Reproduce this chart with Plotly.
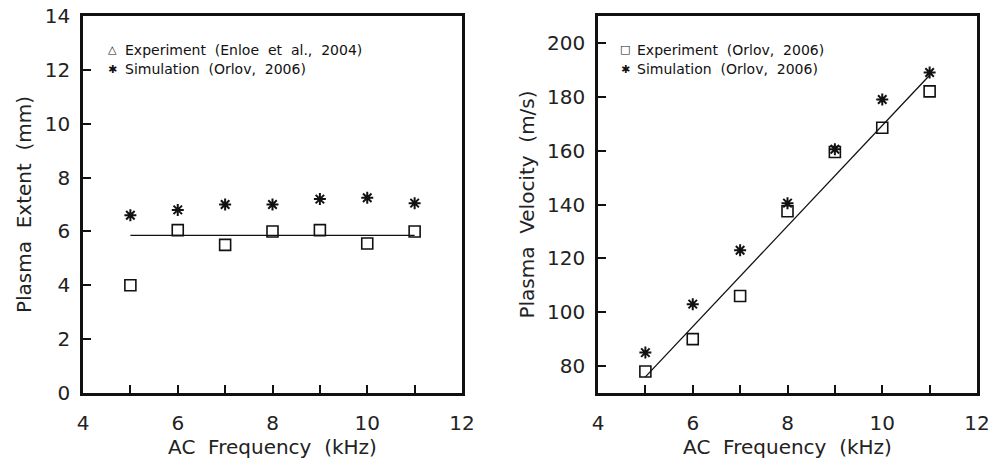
import plotly.graph_objects as go

# ---- data ----
freq = [5, 6, 7, 8, 9, 10, 11]
extent_exp = [4.0, 6.05, 5.5, 6.0, 6.05, 5.55, 6.0]
extent_sim = [6.6, 6.8, 7.0, 7.0, 7.2, 7.25, 7.05]
extent_fit_x = [5, 11]
extent_fit_y = [5.85, 5.85]

vel_exp = [78, 90, 106, 137.5, 159.5, 168.5, 182]
vel_sim = [85, 103, 123, 140.5, 160.5, 179, 189]
vel_fit_x = [5, 11]
vel_fit_y = [76, 188]

x_ticks = [4, 5, 6, 7, 8, 9, 10, 11, 12]
x_ticktext = ["4", "", "6", "", "8", "", "10", "", "12"]
extent_ticks = [0, 2, 4, 6, 8, 10, 12, 14]
vel_ticks = [80, 100, 120, 140, 160, 180, 200]

left_legend = ["Experiment  (Enloe  et  al.,  2004)", "Simulation  (Orlov,  2006)"]
left_symbols = ["△", "✱"]
right_legend = ["Experiment  (Orlov,  2006)", "Simulation  (Orlov,  2006)"]
right_symbols = ["□", "✱"]

FONT = "DejaVu Sans"
BLACK = "#111111"
TXT = "#222222"

W, H = 1002, 459
ML, MR, MT, MB = 83, 25, 16, 66
PW = W - ML - MR

fig = go.Figure()

sq = dict(symbol="square-open", size=11, color=BLACK, line=dict(width=1.6, color=BLACK))
st = dict(symbol="asterisk-open", size=10, color=BLACK, line=dict(width=2, color=BLACK))

# left panel
fig.add_trace(go.Scatter(x=extent_fit_x, y=extent_fit_y, mode="lines",
                         line=dict(color=BLACK, width=1.3), xaxis="x", yaxis="y"))
fig.add_trace(go.Scatter(x=freq, y=extent_exp, mode="markers", marker=sq,
                         xaxis="x", yaxis="y"))
fig.add_trace(go.Scatter(x=freq, y=extent_sim, mode="markers", marker=st,
                         xaxis="x", yaxis="y"))
# right panel
fig.add_trace(go.Scatter(x=vel_fit_x, y=vel_fit_y, mode="lines",
                         line=dict(color=BLACK, width=1.3), xaxis="x2", yaxis="y2"))
fig.add_trace(go.Scatter(x=freq, y=vel_exp, mode="markers", marker=sq,
                         xaxis="x2", yaxis="y2"))
fig.add_trace(go.Scatter(x=freq, y=vel_sim, mode="markers", marker=st,
                         xaxis="x2", yaxis="y2"))


def xaxis(dom, anchor):
    return dict(domain=dom, range=[4, 12], tickvals=x_ticks, ticktext=x_ticktext,
                anchor=anchor, automargin=False,
                ticks="inside", ticklen=8, tickwidth=1.5, tickcolor=BLACK,
                showline=True, linewidth=2.5, linecolor=BLACK, mirror=True,
                showgrid=False, zeroline=False,
                tickfont=dict(family=FONT, size=20, color=TXT),
                ticklabelstandoff=10,
                title=dict(text="AC  Frequency  (kHz)", standoff=10,
                           font=dict(family=FONT, size=20, color=TXT)))


def yaxis(rng, vals, anchor, title, standoff):
    return dict(domain=[0, 1], range=rng, tickvals=vals, anchor=anchor,
                automargin=False,
                ticks="inside", ticklen=8, tickwidth=1.5, tickcolor=BLACK,
                showline=True, linewidth=2.5, linecolor=BLACK, mirror=True,
                showgrid=False, zeroline=False,
                tickfont=dict(family=FONT, size=20, color=TXT),
                ticklabelstandoff=6,
                title=dict(text=title, standoff=standoff,
                           font=dict(family=FONT, size=20, color=TXT)))


ann = []
def legend(x_sym, x_txt, ys, syms, texts):
    for yy, s, t in zip(ys, syms, texts):
        ann.append(dict(x=x_sym, y=yy, xref="paper", yref="paper", text=s,
                        showarrow=False, xanchor="center", yanchor="middle",
                        font=dict(family=FONT, size=11, color=BLACK)))
        ann.append(dict(x=x_txt, y=yy, xref="paper", yref="paper", text=t,
                        showarrow=False, xanchor="left", yanchor="middle",
                        font=dict(family=FONT, size=14, color=BLACK)))

def px_x(p):
    return (p - ML) / PW

def px_y(p):
    return (H - MB - p) / (H - MT - MB)

legend(px_x(112), px_x(123), [px_y(50), px_y(69)], left_symbols, left_legend)
legend(px_x(625), px_x(635), [px_y(50), px_y(69)], right_symbols, right_legend)

fig.update_layout(
    width=W, height=H,
    margin=dict(l=ML, r=MR, t=MT, b=MB),
    paper_bgcolor="white", plot_bgcolor="white",
    showlegend=False,
    xaxis=xaxis([0, px_x(462)], "y"),
    xaxis2=xaxis([px_x(598), 1], "y2"),
    yaxis=yaxis([0, 14], extent_ticks, "x", "Plasma  Extent  (mm)", 8),
    yaxis2=yaxis([70, 210], vel_ticks, "x2", "Plasma  Velocity  (m/s)", 8),
    annotations=ann,
)

fig.write_html("out.html", config={"displayModeBar": False},
               post_script="document.body.style.margin='0';document.body.style.overflow='hidden';")
